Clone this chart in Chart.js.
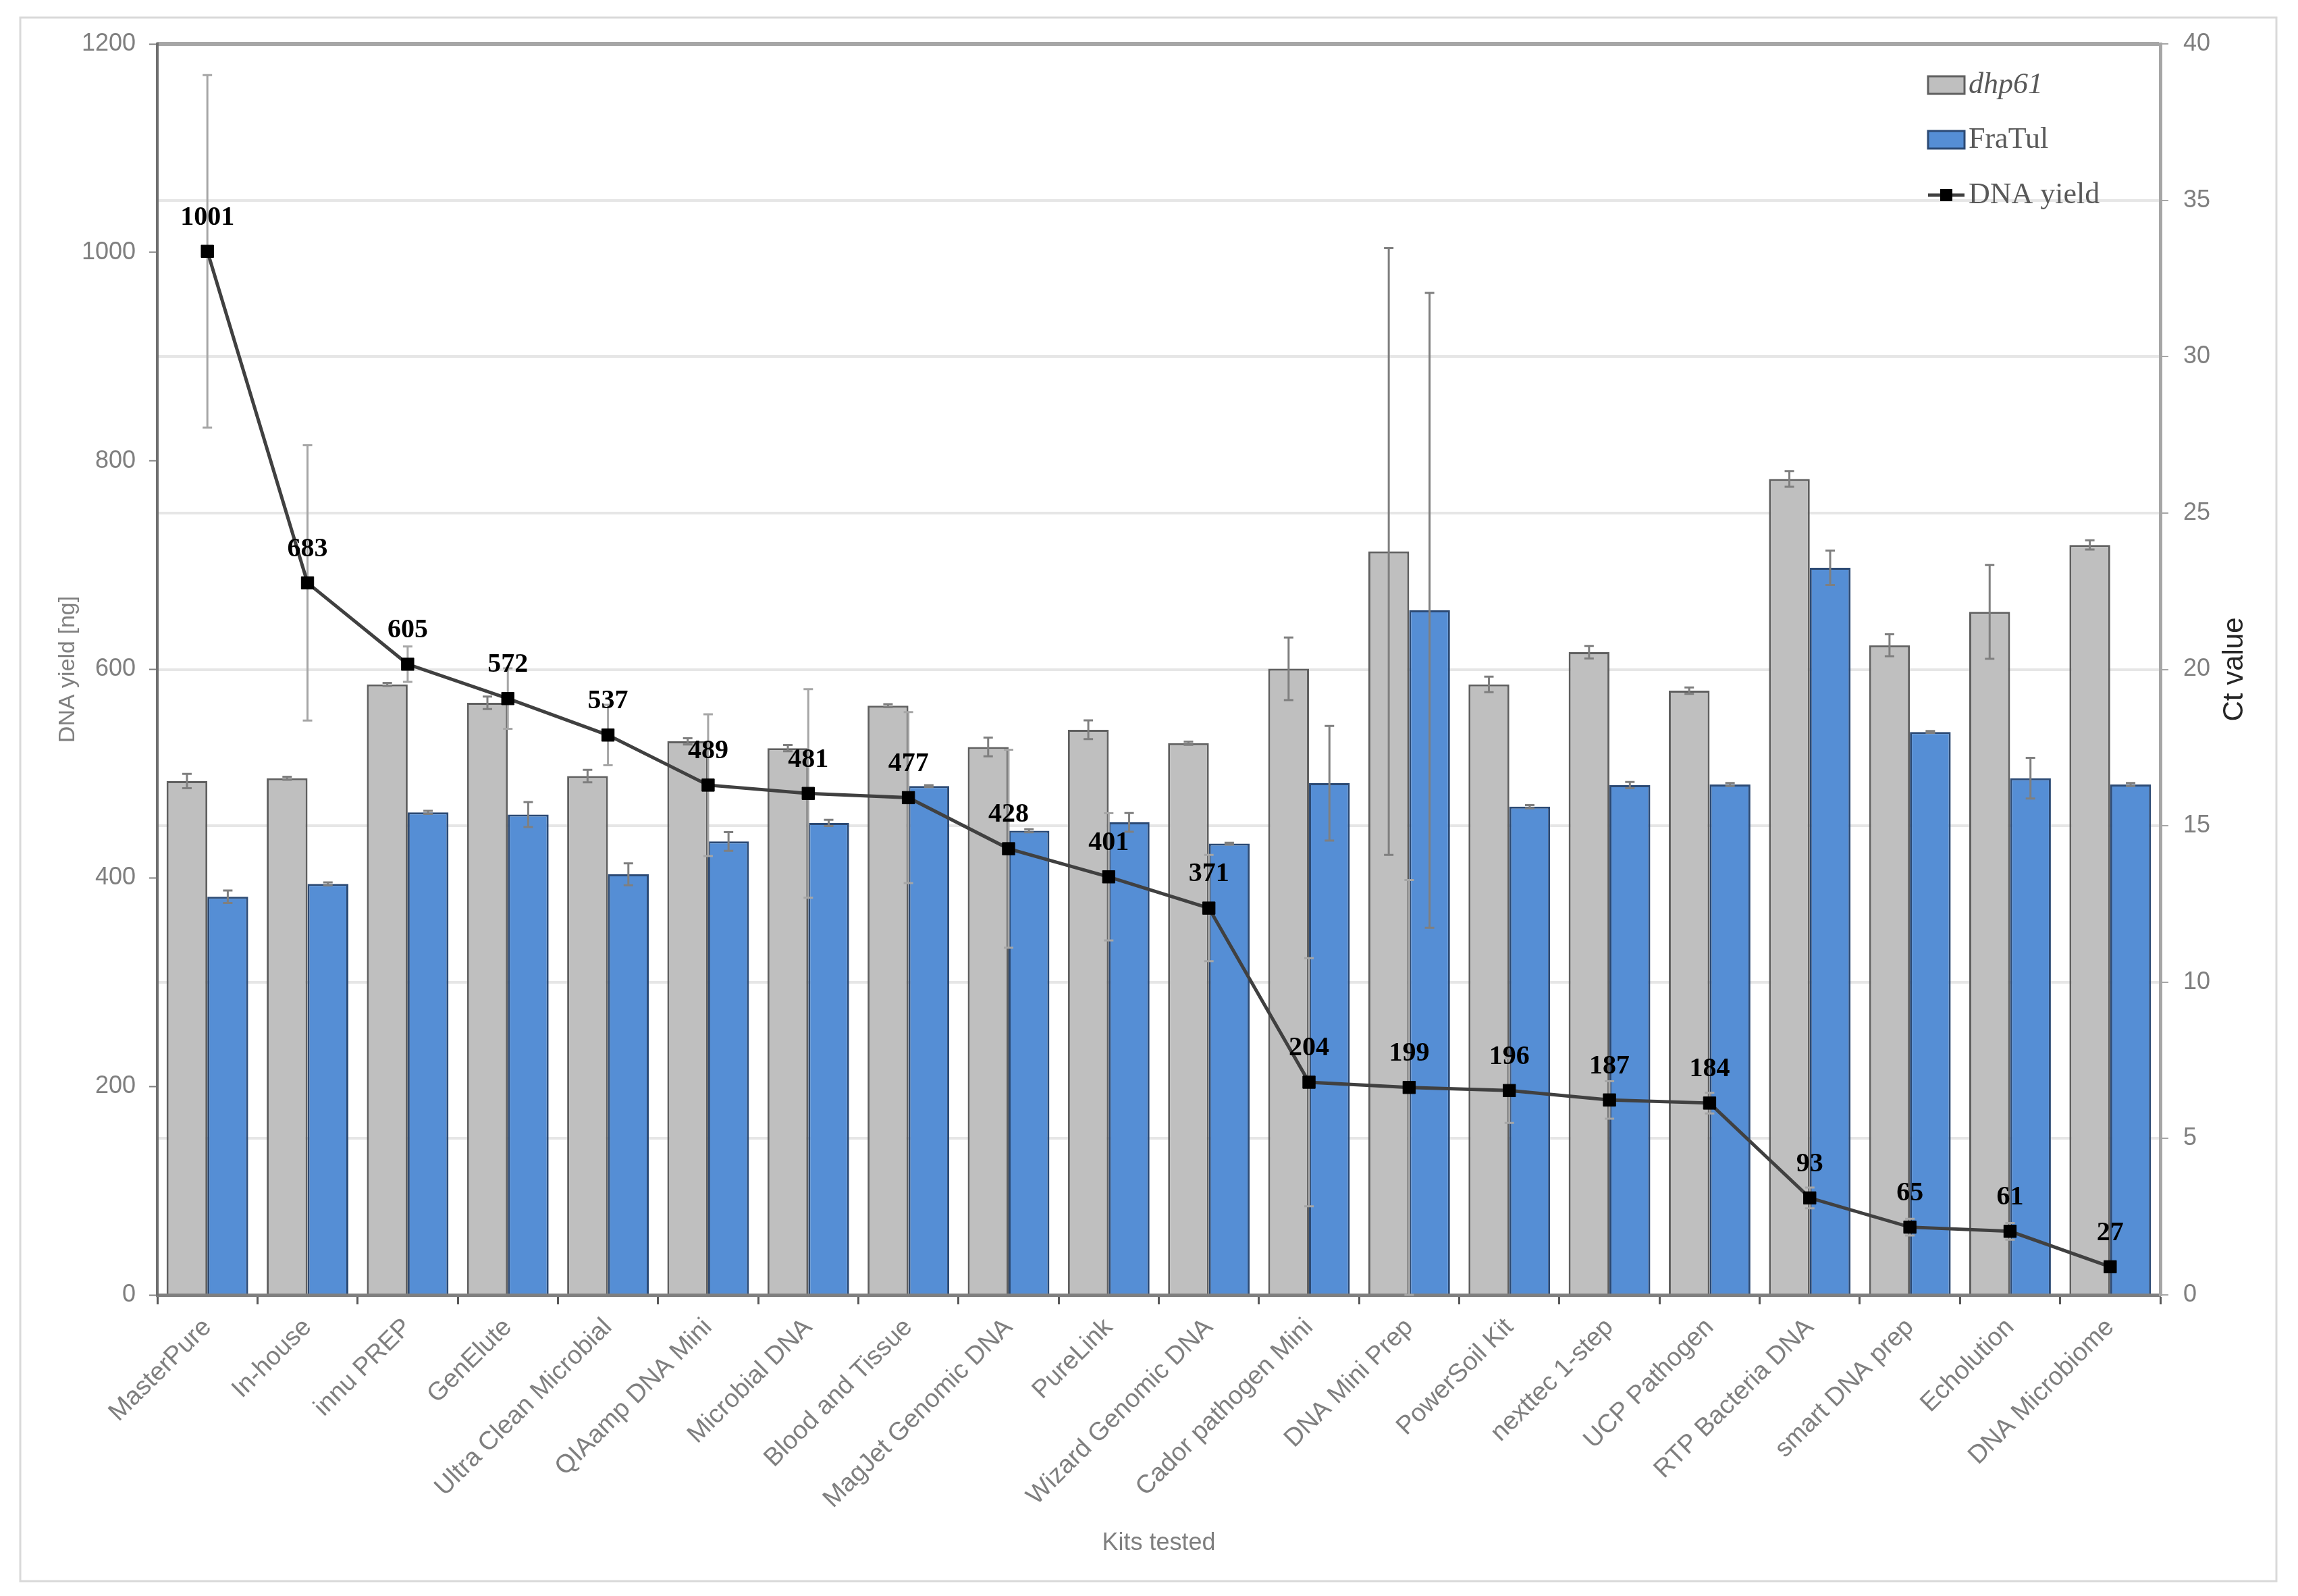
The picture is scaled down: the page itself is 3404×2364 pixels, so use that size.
<!DOCTYPE html>
<html>
<head>
<meta charset="utf-8">
<title>DNA yield and Ct value per kit</title>
<script src="https://cdn.jsdelivr.net/npm/chart.js@4.4.1/dist/chart.umd.min.js"></script>
<style>
  html, body { margin: 0; padding: 0; background: #fff; }
  #grafico { display: block; }
</style>
</head>
<body>
<canvas id="grafico" width="3404" height="2364"></canvas>
<script>
// Kits on the x axis
const kits = [
  'MasterPure', 'In-house', 'innu PREP', 'GenElute', 'Ultra Clean Microbial',
  'QIAamp DNA Mini', 'Microbial DNA', 'Blood and Tissue', 'MagJet Genomic DNA', 'PureLink',
  'Wizard Genomic DNA', 'Cador pathogen Mini', 'DNA Mini Prep', 'PowerSoil Kit', 'nexttec 1-step',
  'UCP Pathogen', 'RTP Bacteria DNA', 'smart DNA prep', 'Echolution', 'DNA Microbiome'
];

// Ct values (right axis)
const ctDhp61 = [16.43, 16.52, 19.52, 18.93, 16.59, 17.70, 17.48, 18.84, 17.52, 18.07,
                 17.64, 20.02, 23.77, 19.52, 20.55, 19.32, 26.09, 20.77, 21.84, 23.98];
const errDhp61 = [0.23, 0.05, 0.05, 0.2, 0.2, 0.1, 0.1, 0.05, 0.3, 0.3,
                  0.05, 1.0, 9.7, 0.25, 0.2, 0.1, 0.25, 0.35, 1.5, 0.15];
const ctFraTul = [12.73, 13.14, 15.43, 15.36, 13.45, 14.50, 15.09, 16.27, 14.84, 15.11,
                  14.43, 16.36, 21.89, 15.61, 16.30, 16.32, 23.25, 18.00, 16.52, 16.32];
const errFraTul = [0.2, 0.05, 0.05, 0.4, 0.35, 0.3, 0.1, 0.03, 0.05, 0.3,
                   0.03, 1.83, 10.15, 0.05, 0.1, 0.05, 0.55, 0.03, 0.65, 0.05];

// DNA yield in ng (left axis)
const dnaYield = [1001, 683, 605, 572, 537, 489, 481, 477, 428, 401,
                  371, 204, 199, 196, 187, 184, 93, 65, 61, 27];
const errYield = [169, 132, 17, 29, 29, 68, 100, 82, 95, 61,
                  51, 119, 199, 31, 18, 10, 10, 8, 8, 5];

// Axis ticks
const yieldTicks = { min: 0, max: 1200, step: 200 };
const ctTicks = { min: 0, max: 40, step: 5 };

const SANS = '"Liberation Sans", Arial, sans-serif';
const SERIF = '"Liberation Serif", "Times New Roman", serif';
const GREY_TEXT = '#7f7f7f';

Chart.defaults.font.family = SANS;

// white page with a thin frame
const framePlugin = {
  id: 'frame',
  beforeDraw(chart) {
    const ctx = chart.ctx;
    ctx.save();
    ctx.fillStyle = '#ffffff';
    ctx.fillRect(0, 0, chart.width, chart.height);
    ctx.strokeStyle = '#d9d9d9';
    ctx.lineWidth = 3;
    ctx.strokeRect(30, 26, chart.width - 62, chart.height - 48);
    ctx.restore();
  }
};

// error bars drawn with the dataset's own scale
function drawErrors(chart, index) {
  const ds = chart.data.datasets[index];
  if (!ds.errors) return;
  const meta = chart.getDatasetMeta(index);
  const scale = chart.scales[meta.yAxisID];
  const ctx = chart.ctx;
  ctx.save();
  ctx.strokeStyle = ds.errorColor;
  ctx.lineWidth = 3;
  meta.data.forEach((el, j) => {
    const v = ds.data[j];
    const e = ds.errors[j];
    const top = scale.getPixelForValue(v + e);
    const bottom = scale.getPixelForValue(Math.max(v - e, 0));
    const x = el.x;
    ctx.beginPath();
    ctx.moveTo(x, top); ctx.lineTo(x, bottom);
    ctx.moveTo(x - 7, top); ctx.lineTo(x + 7, top);
    ctx.moveTo(x - 7, bottom); ctx.lineTo(x + 7, bottom);
    ctx.stroke();
  });
  ctx.restore();
}

const errorBarsPlugin = {
  id: 'errorBars',
  beforeDatasetDraw(chart, args) {
    if (chart.data.datasets[args.index].type === 'line') drawErrors(chart, args.index);
  },
  afterDatasetDraw(chart, args) {
    if (chart.data.datasets[args.index].type !== 'line') drawErrors(chart, args.index);
  }
};

// value labels above the yield points
const valueLabelsPlugin = {
  id: 'valueLabels',
  afterDatasetsDraw(chart) {
    const ctx = chart.ctx;
    chart.data.datasets.forEach((ds, i) => {
      if (ds.type !== 'line') return;
      const meta = chart.getDatasetMeta(i);
      ctx.save();
      ctx.font = 'bold 40px ' + SERIF;
      ctx.fillStyle = '#000000';
      ctx.textAlign = 'center';
      ctx.textBaseline = 'middle';
      meta.data.forEach((pt, j) => {
        ctx.fillText(String(ds.data[j]), pt.x, pt.y - 50);
      });
      ctx.restore();
    });
  }
};

// legend inside the plot, top right, plus the right axis title
const sideTextPlugin = {
  id: 'sideText',
  afterDraw(chart) {
    const ctx = chart.ctx;
    const area = chart.chartArea;
    const ds = chart.data.datasets;
    const boxX = area.right - 344;
    const rows = [area.top + 61, area.top + 142, area.top + 224];
    ctx.save();
    ctx.textBaseline = 'middle';
    ctx.textAlign = 'left';

    [ds[0], ds[1]].forEach((d, k) => {
      const y = rows[k];
      ctx.fillStyle = d.backgroundColor;
      ctx.fillRect(boxX, y - 13, 54, 26);
      ctx.strokeStyle = d.borderColor;
      ctx.lineWidth = 3;
      ctx.strokeRect(boxX, y - 13, 54, 26);
      ctx.fillStyle = '#595959';
      ctx.font = (k === 0 ? 'italic ' : '') + '44px ' + SERIF;
      ctx.fillText(d.label, boxX + 60, y);
    });

    const line = ds[2];
    const ly = rows[2];
    ctx.strokeStyle = line.borderColor;
    ctx.lineWidth = 5;
    ctx.beginPath();
    ctx.moveTo(boxX, ly);
    ctx.lineTo(boxX + 54, ly);
    ctx.stroke();
    ctx.fillStyle = '#000000';
    ctx.fillRect(boxX + 27 - 9, ly - 9, 18, 18);
    ctx.fillStyle = '#595959';
    ctx.font = '44px ' + SERIF;
    ctx.fillText(line.label, boxX + 60, ly);

    // right axis title reads bottom to top
    ctx.translate(3310, (area.top + area.bottom) / 2);
    ctx.rotate(-Math.PI / 2);
    ctx.textAlign = 'center';
    ctx.fillStyle = '#262626';
    ctx.font = '42px ' + SANS;
    ctx.fillText('Ct value', 0, 0);
    ctx.restore();
  }
};

const grafico = new Chart(document.getElementById('grafico').getContext('2d'), {
  data: {
    labels: kits,
    datasets: [
      {
        type: 'bar',
        label: 'dhp61',
        data: ctDhp61,
        errors: errDhp61,
        errorColor: '#7f7f7f',
        yAxisID: 'y1',
        backgroundColor: '#bfbfbf',
        borderColor: '#5f5f5f',
        borderWidth: 3,
        categoryPercentage: 0.815,
        barPercentage: 1.0,
        order: 1
      },
      {
        type: 'bar',
        label: 'FraTul',
        data: ctFraTul,
        errors: errFraTul,
        errorColor: '#7f7f7f',
        yAxisID: 'y1',
        backgroundColor: '#558ed5',
        borderColor: '#2c4a74',
        borderWidth: 3,
        categoryPercentage: 0.815,
        barPercentage: 1.0,
        order: 1
      },
      {
        type: 'line',
        label: 'DNA yield',
        data: dnaYield,
        errors: errYield,
        errorColor: '#a6a6a6',
        yAxisID: 'y',
        borderColor: '#404040',
        borderWidth: 5,
        pointStyle: 'rect',
        pointRadius: 13,
        pointBackgroundColor: '#000000',
        pointBorderColor: '#000000',
        pointBorderWidth: 1,
        tension: 0,
        order: 0
      }
    ]
  },
  options: {
    responsive: false,
    devicePixelRatio: 1,
    animation: false,
    layout: { padding: { top: 65, left: 0, right: 0, bottom: 0 } },
    plugins: {
      legend: { display: false },
      tooltip: { enabled: false }
    },
    scales: {
      x: {
        offset: true,
        grid: { offset: true, drawOnChartArea: false, tickLength: 14, tickColor: '#595959', tickWidth: 3 },
        border: { color: '#7f7f7f', width: 5 },
        ticks: {
          autoSkip: false, minRotation: 45, maxRotation: 45, padding: 12,
          color: GREY_TEXT, font: { size: 38 }
        },
        title: {
          display: true, text: 'Kits tested', color: GREY_TEXT,
          font: { size: 36 }, padding: { top: 0, bottom: 56 }
        },
        afterFit(scale) { scale.height = 446; }
      },
      y: {
        position: 'left',
        min: yieldTicks.min,
        max: yieldTicks.max,
        ticks: {
          stepSize: yieldTicks.step, padding: 20, color: GREY_TEXT, font: { size: 36 },
          callback: (v) => String(v)
        },
        grid: { drawOnChartArea: false, tickLength: 12, tickColor: '#7f7f7f', tickWidth: 2 },
        border: { color: '#6f6f6f', width: 4 },
        title: {
          display: true, text: 'DNA yield [ng]', color: GREY_TEXT,
          font: { size: 34 }, padding: { top: 80, bottom: 0 }
        },
        afterFit(scale) { scale.width = 233; }
      },
      y1: {
        position: 'right',
        min: ctTicks.min,
        max: ctTicks.max,
        ticks: {
          stepSize: ctTicks.step, padding: 22, color: GREY_TEXT, font: { size: 36 },
          callback: (v) => String(v)
        },
        grid: {
          color: (c) => c.tick.value === ctTicks.max ? '#a6a6a6' : (c.tick.value === 0 ? 'rgba(0,0,0,0)' : '#e6e6e6'),
          lineWidth: (c) => c.tick.value === ctTicks.max ? 6 : 4,
          tickLength: 12, tickColor: '#a6a6a6', tickWidth: 2
        },
        border: { color: '#a6a6a6', width: 5 },
        afterFit(scale) { scale.width = 204; }
      }
    }
  },
  plugins: [framePlugin, errorBarsPlugin, valueLabelsPlugin, sideTextPlugin]
});
</script>
</body>
</html>
